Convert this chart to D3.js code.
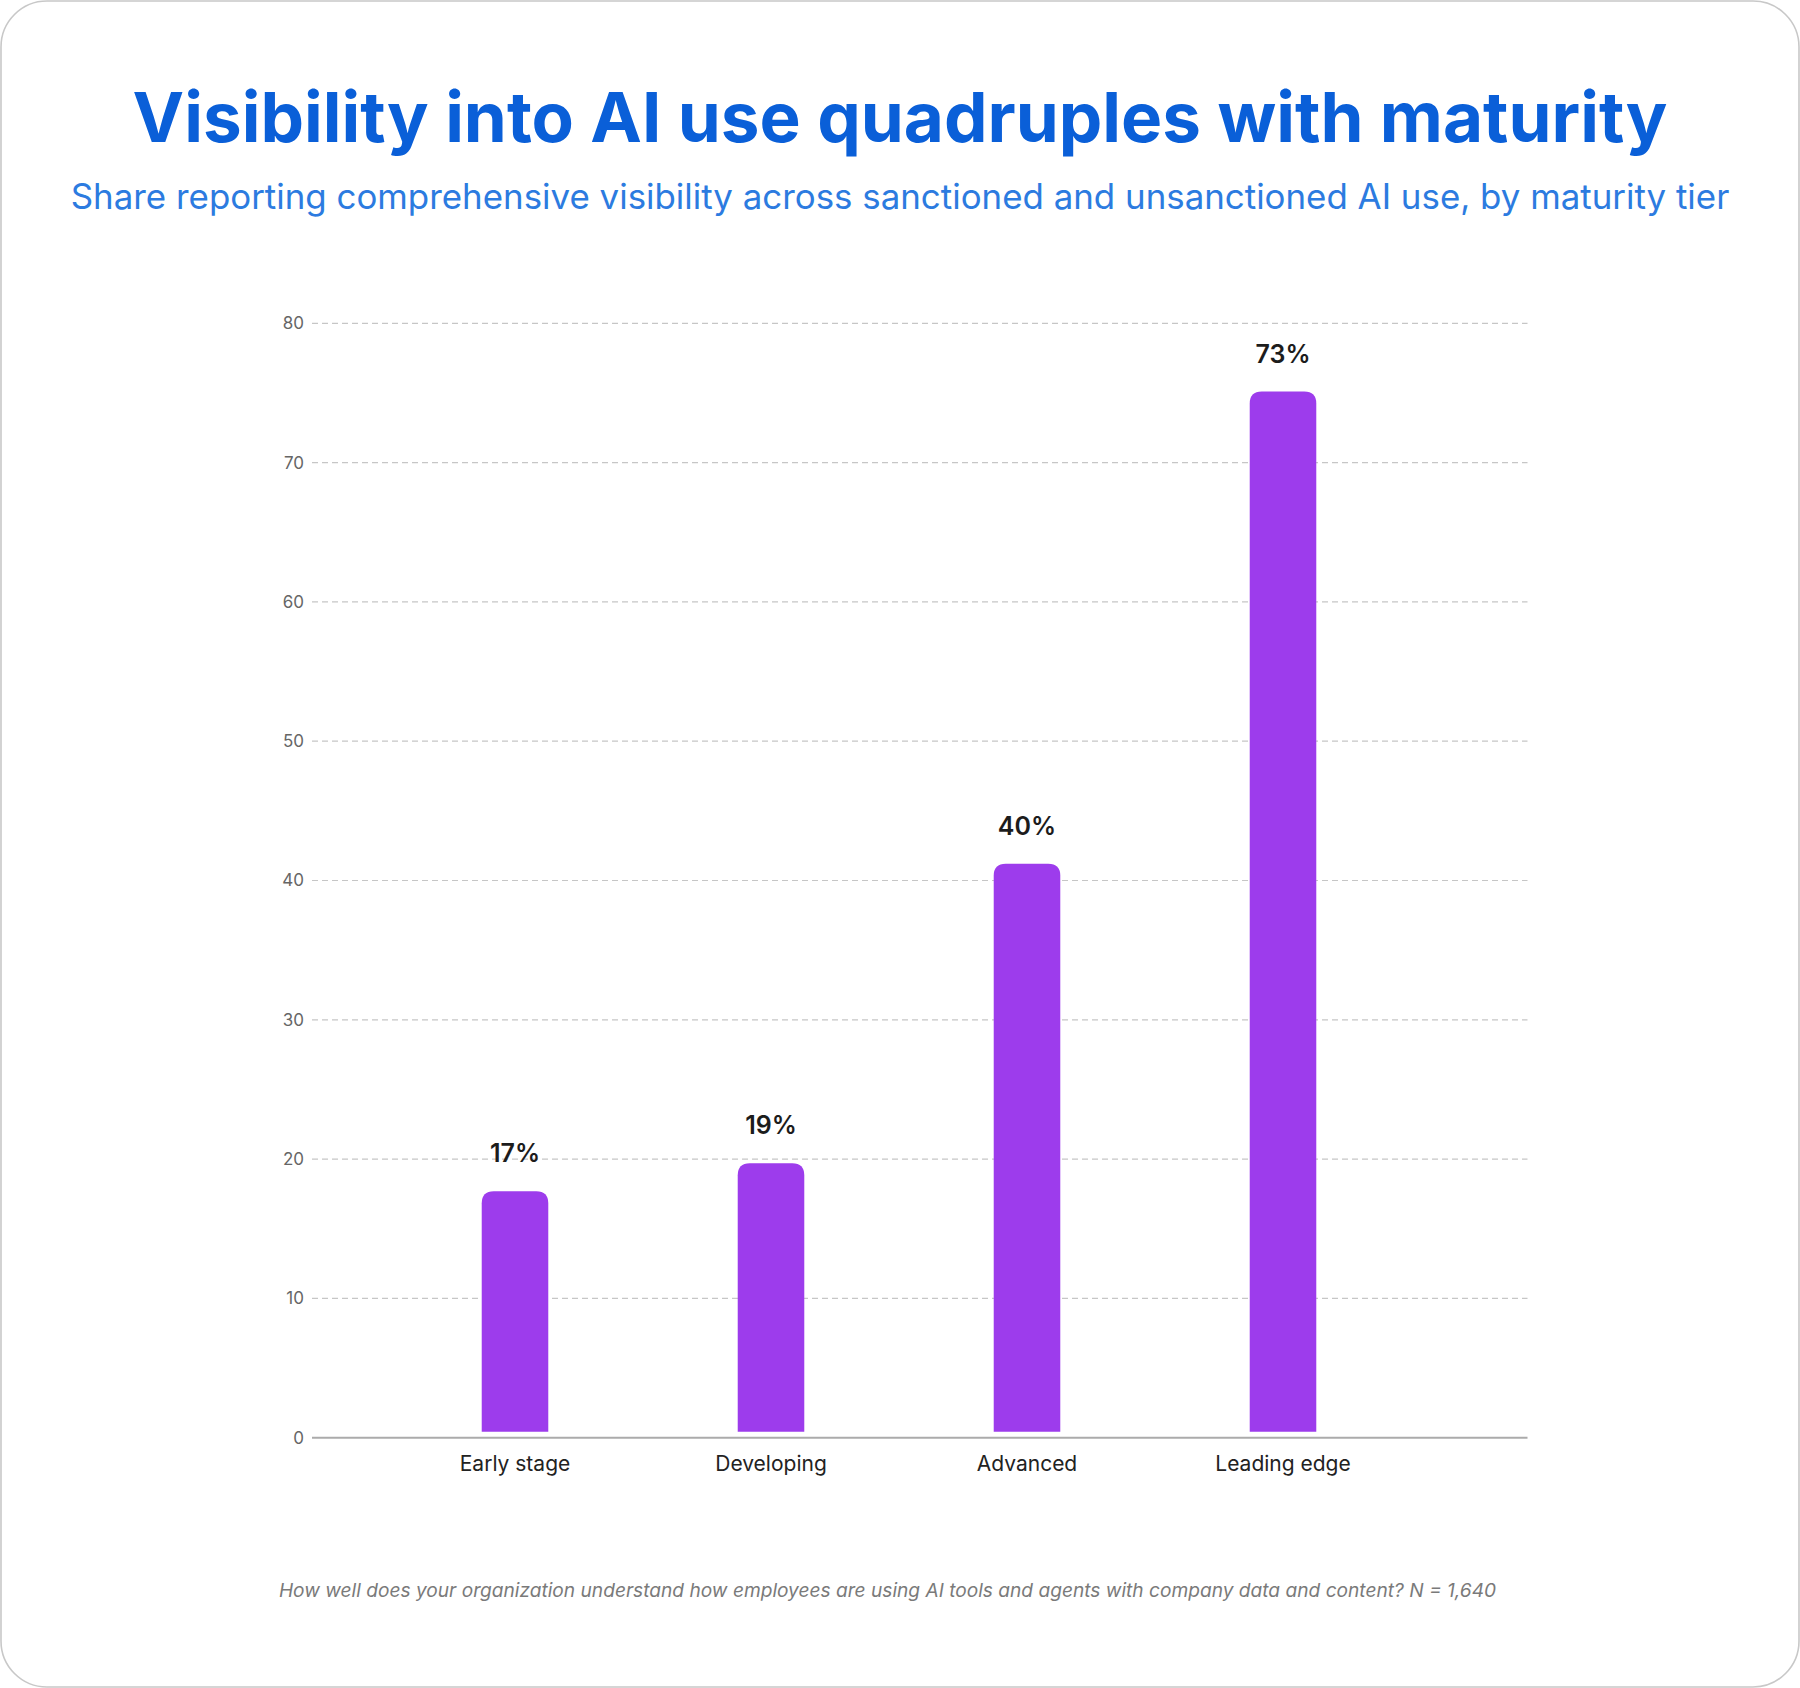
<!DOCTYPE html>
<html>
<head>
<meta charset="utf-8">
<script src="https://cdn.jsdelivr.net/npm/d3@7"></script>
<style>
  html, body { margin: 0; padding: 0; background: #ffffff; }
  svg { display: block; font-family: Inter, "Noto Sans", sans-serif; }
</style>
</head>
<body>
<svg id="chart" width="1800" height="1688"></svg>
<script>
// ---- data ----
const categories = ["Early stage", "Developing", "Advanced", "Leading edge"];
const labelValues = [17, 19, 40, 73];          // printed percentages
const barValues = [17.7, 19.7, 41.2, 75.1];     // bar heights as drawn in the picture
const yTicks = [0, 10, 20, 30, 40, 50, 60, 70, 80];
const titleText = "Visibility into AI use quadruples with maturity";
const subtitleText = "Share reporting comprehensive visibility across sanctioned and unsanctioned AI use, by maturity tier";
const noteText = "How well does your organization understand how employees are using AI tools and agents with company data and content? N = 1,640";

const W = 1800, H = 1688;
const svg = d3.select("#chart");

// card
svg.append("rect")
  .attr("x", 1).attr("y", 1).attr("width", W - 2).attr("height", H - 2)
  .attr("rx", 46).attr("ry", 46)
  .attr("fill", "#ffffff").attr("stroke", "#c8c8c8").attr("stroke-width", 1.6);

function fitText(sel, targetWidth, baseSize) {
  sel.style("font-size", baseSize + "px");
  const w = sel.node().getComputedTextLength();
  sel.style("font-size", (baseSize * targetWidth / w) + "px");
}

// title
const title = svg.append("text")
  .attr("x", 900).attr("y", 142).attr("text-anchor", "middle")
  .attr("fill", "#0a5fd8").style("font-weight", 700)
  .text(titleText);
fitText(title, 1535, 74);

const subtitle = svg.append("text")
  .attr("x", 900).attr("y", 209).attr("text-anchor", "middle")
  .attr("fill", "#2c7be0").style("font-weight", 400)
  .text(subtitleText);
fitText(subtitle, 1659, 33);

// scales
const y = d3.scaleLinear().domain([0, 80]).range([1437.7, 323.3]);
const x = d3.scaleBand().domain(categories)
  .range([387, 1411]).paddingInner(0.74).paddingOuter(0.37);
const plotLeft = 312, plotRight = 1527.5;

// gridlines
const grid = svg.append("g");
grid.selectAll("line").data(yTicks.filter(d => d !== 0)).join("line")
  .attr("x1", plotLeft).attr("x2", plotRight)
  .attr("y1", d => y(d)).attr("y2", d => y(d))
  .attr("stroke", "#c6c6c6").attr("stroke-width", 1.2)
  .attr("stroke-dasharray", "6,4");

// y axis labels
const yAxis = d3.axisLeft(y).tickValues(yTicks).tickSize(0).tickPadding(8);
const yg = svg.append("g").attr("transform", `translate(${plotLeft},0)`).call(yAxis);
yg.select(".domain").remove();
yg.selectAll("text").attr("fill", "#666").style("font-size", "17px")
  .style("font-family", "Inter, sans-serif");

// x axis
const xAxis = d3.axisBottom(x).tickSize(0).tickPadding(18);
const xg = svg.append("g").attr("transform", `translate(0,${y(0)})`).call(xAxis);
xg.select(".domain").remove();
xg.selectAll("text").attr("fill", "#222").style("font-size", "21px")
  .style("font-family", "Inter, sans-serif");
svg.append("line")
  .attr("x1", plotLeft).attr("x2", plotRight)
  .attr("y1", y(0)).attr("y2", y(0))
  .attr("stroke", "#ababab").attr("stroke-width", 2);

// bars with rounded tops
const r = 12, gap = 6;
function barPath(d, i) {
  const x0 = x(categories[i]), bw = x.bandwidth();
  const top = y(d), bottom = y(0) - gap;
  return `M${x0},${bottom}V${top + r}Q${x0},${top} ${x0 + r},${top}` +
         `H${x0 + bw - r}Q${x0 + bw},${top} ${x0 + bw},${top + r}V${bottom}Z`;
}
svg.append("g").selectAll("path").data(barValues).join("path")
  .attr("d", (d, i) => barPath(d, i))
  .attr("fill", "#9d3cec");

// value labels
svg.append("g").selectAll("text").data(labelValues).join("text")
  .attr("x", (d, i) => x(categories[i]) + x.bandwidth() / 2)
  .attr("y", (d, i) => y(barValues[i]) - 29)
  .attr("text-anchor", "middle")
  .attr("fill", "#1c1c1c")
  .style("font-size", "25px").style("font-weight", 600)
  .text(d => d + "%");

// footnote
const note = svg.append("text")
  .attr("x", 887.5).attr("y", 1597).attr("text-anchor", "middle")
  .attr("fill", "#7a7a7a").style("font-style", "italic")
  .text(noteText);
fitText(note, 1218, 20);
</script>
</body>
</html>
